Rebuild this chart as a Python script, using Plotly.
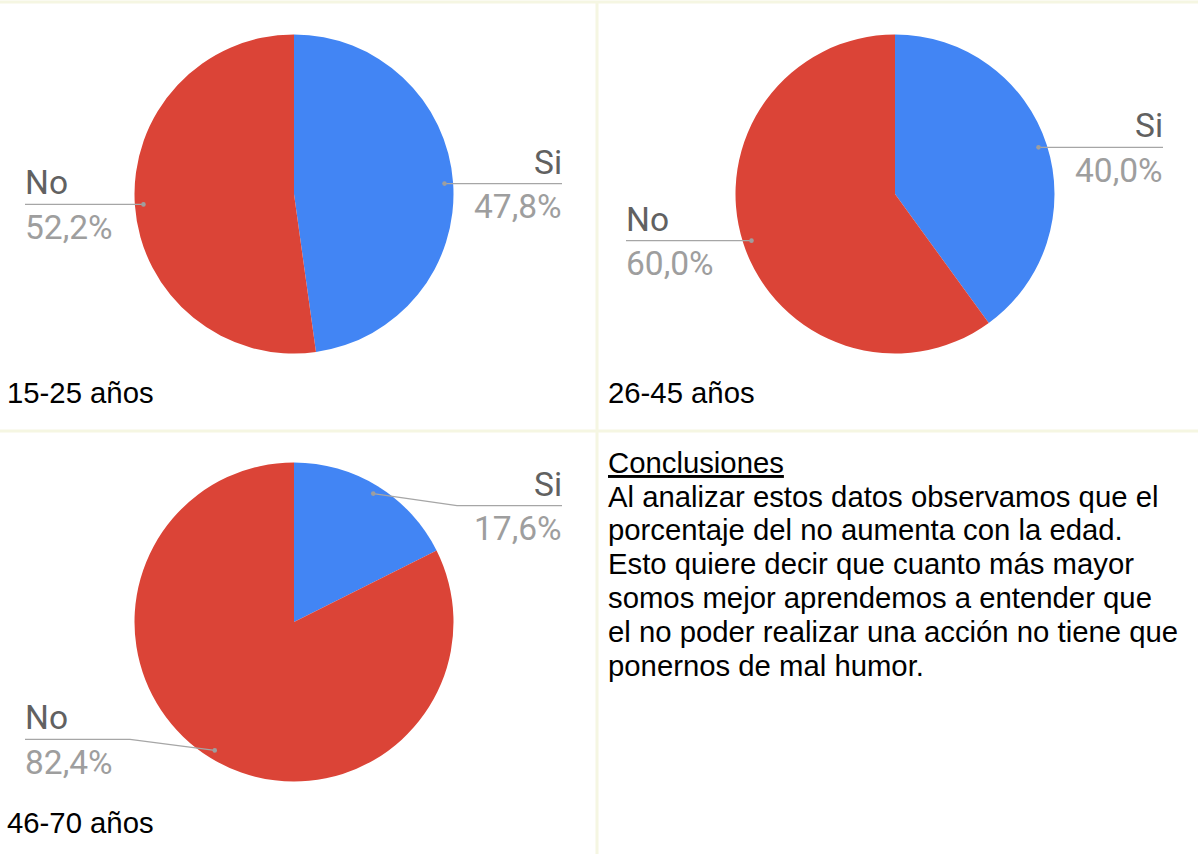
import math
import plotly.graph_objects as go

W, H = 1198, 854

# ---------------- data ----------------
categories = ["Si", "No"]
group_labels = ["15-25 años", "26-45 años", "46-70 años"]
values_15_25 = [47.8, 52.2]
values_26_45 = [40.0, 60.0]
values_46_70 = [17.6, 82.4]

conclusion_title = "Conclusiones"
conclusion_lines = [
    "Al analizar estos datos observamos que el",
    "porcentaje del no aumenta con la edad.",
    "Esto quiere decir que cuanto más mayor",
    "somos mejor aprendemos a entender que",
    "el no poder realizar una acción no tiene que",
    "ponernos de mal humor.",
]

# ---------------- style / layout ----------------
slice_colors = ["#4285F4", "#DB4437"]
name_color = "#616161"
pct_color = "#9e9e9e"
leader_color = "#a6a6a6"
grid_color = "#f5f6e2"
R = 159.5
DOT_FRAC = 0.946
LABEL_FONT = "Roboto, Arial, sans-serif"
TEXT_FONT = "Arial, 'Liberation Sans', sans-serif"
LABEL_SIZE = 33.5
TEXT_SIZE = 29.3

pies = [
    dict(values=values_15_25, title=group_labels[0], cx=294, cy=194,
         label_shift=[0, 0], title_pos=(7, 403)),
    dict(values=values_26_45, title=group_labels[1], cx=895, cy=194,
         label_shift=[0, 0], title_pos=(608, 403)),
    dict(values=values_46_70, title=group_labels[2], cx=294, cy=622,
         label_shift=[12, -11], title_pos=(7, 833)),
]


def px(x):
    return x / W


def py(y):
    return 1 - y / H


def fmt_pct(v, total):
    return f"{100 * v / total:.1f}%".replace(".", ",")


fig = go.Figure()
shapes = []
annotations = []

# grid lines of the layout
shapes.append(dict(type="line", xref="paper", yref="paper", x0=0, x1=1,
                   y0=py(2), y1=py(2), line=dict(color=grid_color, width=3)))
shapes.append(dict(type="line", xref="paper", yref="paper", x0=px(597), x1=px(597),
                   y0=0, y1=py(2), line=dict(color=grid_color, width=3)))
shapes.append(dict(type="line", xref="paper", yref="paper", x0=0, x1=1,
                   y0=py(431), y1=py(431), line=dict(color=grid_color, width=3)))

for p in pies:
    cx, cy = p["cx"], p["cy"]
    fig.add_trace(go.Pie(
        labels=categories, values=p["values"], sort=False, direction="clockwise",
        rotation=0, textinfo="none", hoverinfo="label+percent",
        marker=dict(colors=slice_colors, line=dict(width=0)),
        domain=dict(x=[px(cx - R), px(cx + R)], y=[py(cy + R), py(cy - R)]),
        showlegend=False,
    ))
    total = sum(p["values"])
    cum = 0.0
    for i, (cat, v) in enumerate(zip(categories, p["values"])):
        mid = (cum + v / 2) / total * 2 * math.pi
        cum += v
        dx = cx + DOT_FRAC * R * math.sin(mid)
        dy = cy - DOT_FRAC * R * math.cos(mid)
        ly = dy + p["label_shift"][i]
        right = dx > cx
        if right:
            edge = cx + 268
            elbow = edge - 105
            anchor = "right"
        else:
            edge = cx - 269
            elbow = edge + 105
            anchor = "left"
        if right:
            ex = max(elbow, dx) if ly == dy else elbow
        else:
            ex = min(elbow, dx) if ly == dy else elbow
        path = (f"M {px(dx)} {py(dy)} L {px(ex)} {py(ly)} L {px(edge)} {py(ly)}")
        shapes.append(dict(type="path", xref="paper", yref="paper", path=path,
                           line=dict(color=leader_color, width=1.3)))
        r = 2.3
        shapes.append(dict(type="circle", xref="paper", yref="paper",
                           x0=px(dx - r), x1=px(dx + r), y0=py(dy + r), y1=py(dy - r),
                           fillcolor="#9e9e9e", line=dict(width=0)))
        annotations.append(dict(
            xref="paper", yref="paper", x=px(edge), y=py(ly - 21.5),
            xanchor=anchor, yanchor="middle", text=cat, showarrow=False,
            font=dict(family=LABEL_FONT, size=LABEL_SIZE, color=name_color),
            borderpad=0, borderwidth=0))
        annotations.append(dict(
            xref="paper", yref="paper", x=px(edge), y=py(ly + 23),
            xanchor=anchor, yanchor="middle", text=fmt_pct(v, total), showarrow=False,
            font=dict(family=LABEL_FONT, size=LABEL_SIZE, color=pct_color),
            borderpad=0, borderwidth=0))
    tx, tb = p["title_pos"]
    annotations.append(dict(
        xref="paper", yref="paper", x=px(tx), y=py(tb - 0.35 * TEXT_SIZE),
        xanchor="left", yanchor="middle", text=p["title"], showarrow=False,
        font=dict(family=TEXT_FONT, size=TEXT_SIZE, color="#000000"),
        borderpad=0, borderwidth=0))

# conclusions text
base0 = 472.5
step = 33.8
annotations.append(dict(
    xref="paper", yref="paper", x=px(608), y=py(base0 - 0.35 * TEXT_SIZE),
    xanchor="left", yanchor="middle", text=f"<u>{conclusion_title}</u>", showarrow=False,
    font=dict(family=TEXT_FONT, size=TEXT_SIZE, color="#000000"),
    borderpad=0, borderwidth=0))
for k, line in enumerate(conclusion_lines):
    b = base0 + step * (k + 1)
    annotations.append(dict(
        xref="paper", yref="paper", x=px(608), y=py(b - 0.35 * TEXT_SIZE),
        xanchor="left", yanchor="middle", text=line, showarrow=False,
        font=dict(family=TEXT_FONT, size=TEXT_SIZE, color="#000000"),
        borderpad=0, borderwidth=0))

fig.update_layout(
    width=W, height=H, autosize=False,
    margin=dict(l=0, r=0, t=0, b=0),
    paper_bgcolor="white", plot_bgcolor="white",
    shapes=shapes, annotations=annotations,
)

fig.write_html(
    "out.html",
    config={"displayModeBar": False},
    post_script="document.body.style.margin='0';document.body.style.overflow='hidden';",
)
